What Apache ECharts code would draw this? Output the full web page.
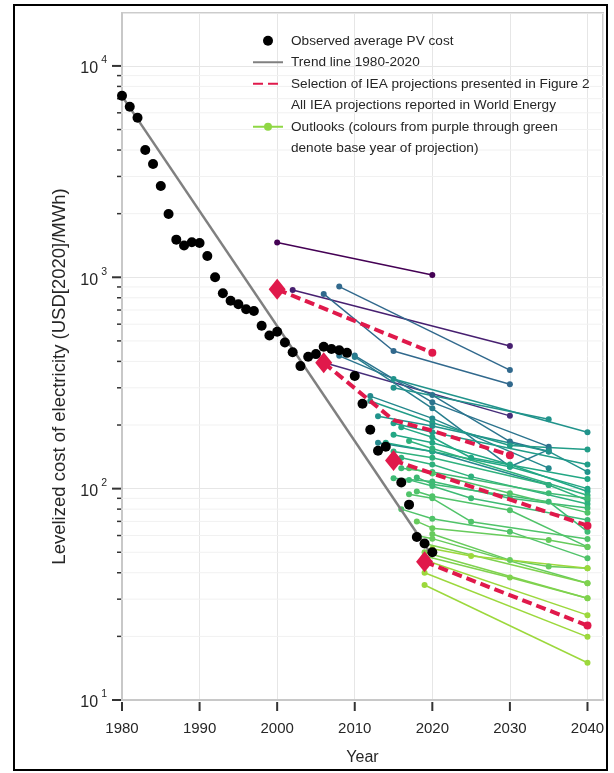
<!DOCTYPE html>
<html><head><meta charset="utf-8">
<script src="https://cdn.jsdelivr.net/npm/echarts@6/dist/echarts.min.js"></script>
<style>html,body{margin:0;padding:0;background:#fff}#c{width:614px;height:773px}</style>
</head><body><div id="c"></div>
<script>
// ---------------- data ----------------
const obsYears = [1980,1981,1982,1983,1984,1985,1986,1987,1988,1989,1990,1991,1992,1993,1994,1995,1996,1997,1998,1999,2000,2001,2002,2003,2004,2005,2006,2007,2008,2009,2010,2011,2012,2013,2014,2015,2016,2017,2018,2019,2020];
const obsValues = [7230,6410,5690,4005,3435,2705,1994,1507,1413,1465,1454,1261,1000,840,774,745,706,693,590,530,553,491,442,380,421,433,469,458,452,439,341,252,190,151,158,135,107,84,59,55,50];
const trendYears = [1980, 2020];
const trendValues = [7200, 48];
const selectionProjections = [
  [[2000,877],[2020,440]],
  [[2006,394],[2015,211],[2020,188],[2030,144]],
  [[2015,136],[2040,66.8]],
  [[2019,45.1],[2040,22.5]]
];
const projBaseYears = [2000,2002,2003,2008,2008,2009,2009,2010,2011,2011,2012,2012,2013,2013,2012,2014,2014,2014,2015,2015,2015,2016,2016,2016,2016,2017,2017,2017,2017,2018,2018,2018,2019,2019,2019,2020,2020,2020,2020];
const projPoints = [
  [[2000,1460],[2020,1026]],
  [[2002,871],[2030,473]],
  [[2006,395],[2030,221]],
  [[2006,834],[2015,448],[2030,312]],
  [[2008,904],[2030,364]],
  [[2008,425],[2020,277],[2030,167],[2035,150]],
  [[2010,426],[2020,256],[2035,158]],
  [[2010,420],[2020,240],[2030,127],[2035,153]],
  [[2012,274],[2020,215],[2035,125]],
  [[2013,165],[2020,150],[2035,104]],
  [[2015,330],[2040,185]],
  [[2015,300],[2035,213]],
  [[2012,260],[2020,205],[2030,160],[2040,153]],
  [[2015,204],[2020,185],[2040,130]],
  [[2013,220],[2020,198],[2035,150],[2040,120]],
  [[2016,195],[2020,175],[2025,140],[2040,111]],
  [[2014,165],[2020,150],[2030,127],[2040,100]],
  [[2015,180],[2020,165],[2030,130],[2040,97]],
  [[2017,168],[2020,155],[2040,93]],
  [[2015,150],[2020,140],[2035,104],[2040,88]],
  [[2016,140],[2020,130],[2025,114],[2040,84.6]],
  [[2015,112],[2020,108],[2030,90],[2040,81]],
  [[2016,125],[2020,120],[2035,95],[2040,90]],
  [[2017,110],[2020,103],[2025,90],[2040,71]],
  [[2018,113],[2020,105],[2035,86.8],[2040,62.6]],
  [[2017,125],[2020,118],[2030,95],[2040,77]],
  [[2017,94],[2020,90],[2025,69.8],[2040,57.8]],
  [[2018,97],[2020,92],[2030,79],[2040,53]],
  [[2016,80],[2020,72],[2030,62.6],[2040,46.8]],
  [[2020,61],[2030,45.9],[2035,42.8],[2040,42]],
  [[2018,70],[2020,65],[2035,57.2],[2040,53]],
  [[2018,60],[2020,58],[2040,35.7]],
  [[2019,55],[2040,35.7]],
  [[2019,50],[2040,30.3]],
  [[2019,48],[2030,38],[2040,30.3]],
  [[2019,46],[2040,25.2]],
  [[2019,40],[2040,19.9]],
  [[2019,35],[2040,15]],
  [[2020,52],[2025,48],[2040,42]]
];
const xTickValues = [1980,1990,2000,2010,2020,2030,2040];
const yTickValues = [10,100,1000,10000];
const yMinorValues = [20,30,40,50,60,70,80,90,200,300,400,500,600,700,800,900,2000,3000,4000,5000,6000,7000,8000,9000];

// ---------------- names ----------------
const OBS = 'Observed average PV cost';
const TREND = 'Trend line 1980-2020';
const SEL = 'Selection of IEA projections presented in Figure 2';
const ALL = 'All IEA projections reported in World Energy Outlooks (colours from purple through green denote base year of projection)';

// ---------------- styling helpers ----------------
const VIR = ['#440154','#482475','#414487','#355f8d','#2a788e','#21918c','#22a884','#44bf70','#7ad151','#bddf26','#fde725'];
function hex2rgb(h){return [1,3,5].map(i=>parseInt(h.substr(i,2),16));}
function viridis(t){
  t=Math.max(0,Math.min(1,t)); const s=t*10; const i=Math.min(9,Math.floor(s)); const f=s-i;
  const a=hex2rgb(VIR[i]), b=hex2rgb(VIR[i+1]);
  return 'rgb('+a.map((v,k)=>Math.round(v+(b[k]-v)*f)).join(',')+')';
}
const colorFor = b => viridis((b-2000)/20*0.85);
const FONT = '"Liberation Sans", Arial, Helvetica, sans-serif';
const TXT = '#262626';
const RED = '#e0194b';
const XMIN = 1980, XMAX = 2042, YMIN = 10, YMAX = 17800;

const series = [];

// minor y grid lines + all y ticks, drawn through the axis scale
series.push({
  type:'custom', name:'_ygrid', silent:true, z:1, clip:false,
  data: yMinorValues.map(v=>[XMIN,v,0]).concat(yTickValues.map(v=>[XMIN,v,1])),
  encode:{x:0,y:1},
  renderItem:(params, api)=>{
    const p = api.coord([api.value(0), api.value(1)]);
    const cs = params.coordSys;
    const major = api.value(2) === 1;
    const ch = [];
    if(!major) ch.push({type:'line', shape:{x1:cs.x, y1:p[1], x2:cs.x+cs.width, y2:p[1]}, style:{stroke:'#f1f1f1', lineWidth:1}});
    ch.push({type:'line', shape:{x1:cs.x-(major?10:5), y1:p[1], x2:cs.x-1, y2:p[1]}, style:{stroke:'#333', lineWidth:major?2:1.5}});
    return {type:'group', children:ch};
  }
});
// x ticks
series.push({
  type:'custom', name:'_xticks', silent:true, z:1, clip:false,
  data: xTickValues.map(v=>[v,YMIN]),
  encode:{x:0,y:1},
  renderItem:(params, api)=>{
    const p = api.coord([api.value(0), api.value(1)]);
    return {type:'line', shape:{x1:p[0], y1:p[1]+2, x2:p[0], y2:p[1]+11}, style:{stroke:'#333', lineWidth:2}};
  }
});

// all IEA projections
projPoints.forEach((pts, i)=>{
  const c = colorFor(projBaseYears[i]);
  series.push({
    type:'line', name: ALL, data: pts, z:2,
    symbol:'circle', symbolSize:6, showSymbol:true,
    lineStyle:{color:c, width:1.5}, itemStyle:{color:c, opacity:1}, emphasis:{disabled:true}
  });
});

// trend line
series.push({
  type:'line', name: TREND, data: trendYears.map((y,i)=>[y,trendValues[i]]), z:3,
  symbol:'none', lineStyle:{color:'#808080', width:2.5}, itemStyle:{color:'#808080'}, emphasis:{disabled:true}
});

// observed
series.push({
  type:'scatter', name: OBS, data: obsYears.map((y,i)=>[y,obsValues[i]]), z:4,
  symbol:'circle', symbolSize:10, itemStyle:{color:'#000', opacity:1}, emphasis:{disabled:true}
});

// selection (red dashed)
selectionProjections.forEach(pts=>{
  series.push({
    type:'line', name: SEL, data: pts, z:5, symbol:'none',
    lineStyle:{color:RED, width:4, type:[10,5]}, itemStyle:{color:RED}, emphasis:{disabled:true}
  });
});
series.push({
  type:'scatter', name:'_selmarks', z:6,
  data: selectionProjections.flatMap(pts=>[
    {value: pts[0], symbol:'diamond', symbolSize:[17,21]},
    {value: pts[pts.length-1], symbol:'circle', symbolSize:8}
  ]),
  itemStyle:{color:RED, opacity:1}, emphasis:{disabled:true}
});

const option = {
  animation:false,
  backgroundColor:'#fff',
  textStyle:{fontFamily:FONT},
  grid:{left:122, top:13, right:11, bottom:73, show:true, borderColor:'#cccccc', borderWidth:2, containLabel:false},
  legend:{
    orient:'vertical', left:247, top:25, itemGap:0, itemWidth:30, itemHeight:10, selectedMode:false,
    textStyle:{fontSize:13.6, color:TXT, lineHeight:21.5, fontFamily:FONT, padding:[0,0,0,3]},
    data:[
      {name:OBS, icon:'circle', itemStyle:{color:'#000', opacity:1}},
      {name:TREND, itemStyle:{opacity:0}},
      {name:SEL, itemStyle:{opacity:0}},
      {name:ALL, itemStyle:{color:'#8fd744', opacity:1}, lineStyle:{color:'#8fd744', width:2}}
    ],
    formatter: n => n===ALL ? 'All IEA projections reported in World Energy\nOutlooks (colours from purple through green\ndenote base year of projection)' : n
  },
  xAxis:{
    type:'value', min:XMIN, max:XMAX, interval:10,
    name:'Year', nameLocation:'middle', nameGap:50,
    nameTextStyle:{fontSize:16, color:TXT, fontFamily:FONT},
    axisLine:{show:true, lineStyle:{color:'#c8c8c8', width:2}},
    axisTick:{show:false},
    axisLabel:{fontSize:15, color:TXT, margin:21, fontFamily:FONT,
      formatter: v => (v%10===0 ? String(v) : '')},
    splitLine:{show:true, lineStyle:{color:'#e6e6e6', width:1}}
  },
  yAxis:{
    type:'log', logBase:10, min:YMIN, max:YMAX,
    name:'Levelized cost of electricity (USD[2020]/MWh)', nameLocation:'middle', nameGap:50,
    nameTextStyle:{fontSize:18.5, color:TXT, fontFamily:FONT, padding:[0,40,0,0]},
    axisLine:{show:true, lineStyle:{color:'#c8c8c8', width:2}},
    axisTick:{show:false},
    axisLabel:{margin:15, color:TXT, fontFamily:FONT,
      formatter: v => { const e = Math.log10(v); return Math.abs(e-Math.round(e))<1e-6 ? '{b|10}{s|'+Math.round(e)+'}' : ''; },
      rich:{ b:{fontSize:16, color:TXT, fontFamily:FONT, padding:[6,0,0,0]}, s:{fontSize:10.5, color:TXT, fontFamily:FONT, verticalAlign:'top', padding:[0,0,10,3]} }
    },
    splitLine:{show:true, lineStyle:{color:'#e6e6e6', width:1}}
  },
  graphic:[
    {type:'rect', shape:{x:14, y:5, width:593, height:765}, style:{fill:'none', stroke:'#000', lineWidth:2}, z:100, silent:true}
  ],
  series: series
};
const chart = echarts.init(document.getElementById('c'), null, {renderer:'canvas'});
chart.setOption(option);
</script>
</body></html>
